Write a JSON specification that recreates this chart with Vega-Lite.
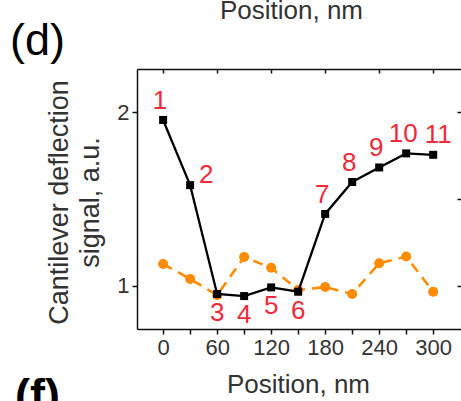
{
  "$schema": "https://vega.github.io/schema/vega-lite/v6.json",
  "autosize": {"type": "none"},
  "padding": {"left": 137, "top": 69, "right": 0, "bottom": 72},
  "width": 325,
  "height": 260,
  "background": "white",
  "view": {"stroke": null},
  "config": {
    "font": "Liberation Sans",
    "axis": {
      "grid": false,
      "domainColor": "#111",
      "domainWidth": 1.5,
      "tickColor": "#111",
      "tickWidth": 1.5,
      "labelFont": "Liberation Sans",
      "titleFont": "Liberation Sans",
      "labelColor": "#333",
      "titleColor": "#333",
      "titleFontWeight": "normal"
    }
  },
  "datasets": {
    "tip": [
      {"position": 0, "signal": 1.956, "point": 1},
      {"position": 30, "signal": 1.58, "point": 2},
      {"position": 60, "signal": 0.952, "point": 3},
      {"position": 90, "signal": 0.94, "point": 4},
      {"position": 120, "signal": 0.99, "point": 5},
      {"position": 150, "signal": 0.965, "point": 6},
      {"position": 180, "signal": 1.414, "point": 7},
      {"position": 210, "signal": 1.598, "point": 8},
      {"position": 240, "signal": 1.682, "point": 9},
      {"position": 270, "signal": 1.763, "point": 10},
      {"position": 300, "signal": 1.755, "point": 11}
    ],
    "reference": [
      {"position": 0, "signal": 1.125},
      {"position": 30, "signal": 1.039},
      {"position": 60, "signal": 0.945},
      {"position": 90, "signal": 1.165},
      {"position": 120, "signal": 1.103},
      {"position": 150, "signal": 0.975},
      {"position": 180, "signal": 0.992},
      {"position": 210, "signal": 0.952},
      {"position": 240, "signal": 1.129},
      {"position": 270, "signal": 1.168},
      {"position": 300, "signal": 0.965}
    ]
  },
  "layer": [
    {
      "data": {"name": "reference"},
      "mark": {
        "type": "line",
        "color": "#ff8c00",
        "strokeWidth": 2.6,
        "strokeDash": [10, 7],
        "point": {"filled": true, "shape": "circle", "size": 100, "color": "#ff8c00"}
      },
      "encoding": {
        "x": {
          "field": "position", "type": "quantitative",
          "scale": {"domain": [-29, 332], "nice": false, "zero": false},
          "axis": {
            "orient": "top", "values": [0, 60, 120, 180, 240, 300],
            "labels": false, "tickSize": -4, "domain": true,
            "title": "Position, nm", "titleFontSize": 26,
            "titleX": 154, "titleY": -51, "titleBaseline": "alphabetic", "titleAlign": "center"
          }
        },
        "y": {
          "field": "signal", "type": "quantitative",
          "scale": {"domain": [0.75, 2.25], "nice": false, "zero": false},
          "axis": {
            "orient": "right", "values": [1, 1.5, 2],
            "labels": false, "tickSize": -5, "domain": true,
            "title": "(d)", "titleFontSize": 45, "titleColor": "#000", "titleAngle": 0,
            "titleX": -425, "titleY": -15, "titleBaseline": "alphabetic", "titleAlign": "center"
          }
        }
      }
    },
    {
      "data": {"name": "tip"},
      "mark": {
        "type": "line",
        "color": "#000",
        "strokeWidth": 2.3,
        "point": {"filled": true, "shape": "square", "size": 64, "color": "#000"}
      },
      "encoding": {
        "x": {
          "field": "position", "type": "quantitative",
          "axis": {
            "orient": "bottom", "values": [0, 30, 60, 90, 120, 150, 180, 210, 240, 270, 300],
            "labelExpr": "datum.value % 60 == 0 ? datum.label : ''",
            "tickSize": 5, "labelFontSize": 22, "labelPadding": 3,
            "title": "Position, nm", "titleFontSize": 26,
            "titleX": 161, "titleY": 63, "titleBaseline": "alphabetic", "titleAlign": "center"
          }
        },
        "y": {
          "field": "signal", "type": "quantitative",
          "axis": {
            "orient": "left", "values": [1, 1.5, 2], "format": "d",
            "labelExpr": "datum.value % 1 == 0 ? datum.label : ''",
            "tickSize": 5, "labelFontSize": 22, "labelPadding": 3,
            "title": ["Cantilever deflection", "signal, a.u."], "titleFontSize": 27,
            "titleLineHeight": 31,
            "titleX": -70, "titleY": 133, "titleBaseline": "alphabetic", "titleAlign": "center"
          }
        }
      }
    },
    {
      "data": {"name": "tip"},
      "transform": [{"filter": "datum.point == 1 || (datum.point >= 7 && datum.point <= 10)"}],
      "mark": {"type": "text", "color": "#ee2a3a", "fontSize": 26, "baseline": "middle", "dx": -3, "dy": -19},
      "encoding": {
        "x": {
          "field": "position", "type": "quantitative",
          "axis": {
            "orient": "bottom", "ticks": false, "labels": false, "domain": false,
            "title": "(f)", "titleFontSize": 45, "titleFontWeight": "bold", "titleColor": "#000",
            "titleX": -100, "titleY": 80, "titleBaseline": "alphabetic", "titleAlign": "center"
          }
        },
        "y": {"field": "signal", "type": "quantitative", "axis": null},
        "text": {"field": "point", "type": "nominal"}
      }
    },
    {
      "data": {"name": "tip"},
      "transform": [{"filter": "datum.point == 11"}],
      "mark": {"type": "text", "color": "#ee2a3a", "fontSize": 26, "baseline": "middle", "dx": 5, "dy": -20},
      "encoding": {
        "x": {"field": "position", "type": "quantitative", "axis": null},
        "y": {"field": "signal", "type": "quantitative", "axis": null},
        "text": {"field": "point", "type": "nominal"}
      }
    },
    {
      "data": {"name": "tip"},
      "transform": [{"filter": "datum.point == 2"}],
      "mark": {"type": "text", "color": "#ee2a3a", "fontSize": 26, "baseline": "middle", "dx": 16, "dy": -10},
      "encoding": {
        "x": {"field": "position", "type": "quantitative", "axis": null},
        "y": {"field": "signal", "type": "quantitative", "axis": null},
        "text": {"field": "point", "type": "nominal"}
      }
    },
    {
      "data": {"name": "tip"},
      "transform": [{"filter": "datum.point >= 3 && datum.point <= 6"}],
      "mark": {"type": "text", "color": "#ee2a3a", "fontSize": 26, "baseline": "middle", "dy": 19},
      "encoding": {
        "x": {"field": "position", "type": "quantitative", "axis": null},
        "y": {"field": "signal", "type": "quantitative", "axis": null},
        "text": {"field": "point", "type": "nominal"}
      }
    }
  ],
  "resolve": {"axis": {"x": "independent", "y": "independent"}}
}
